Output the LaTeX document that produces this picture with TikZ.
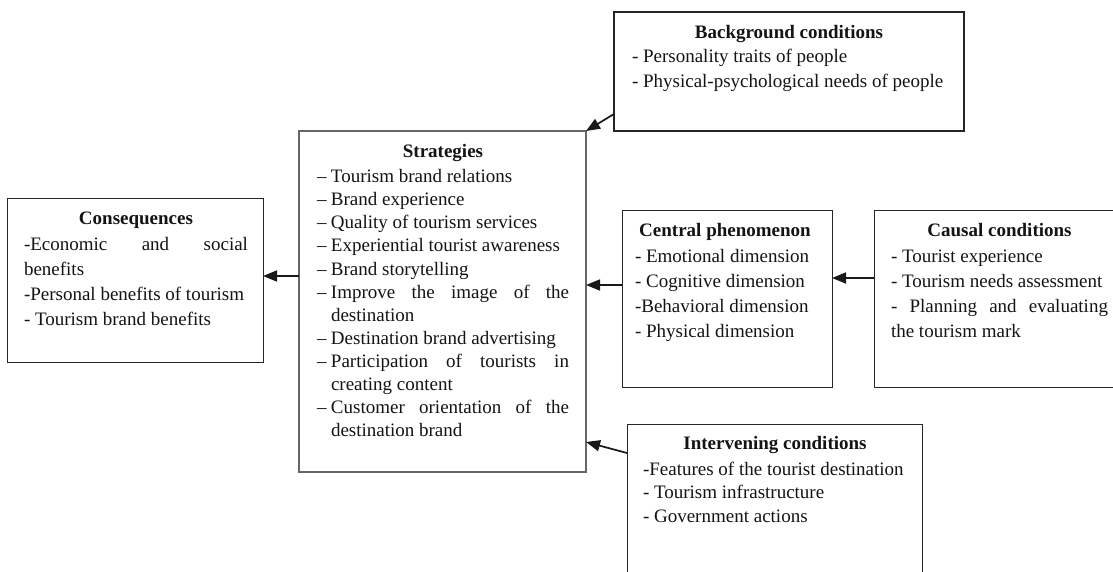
\documentclass[tikz,border=0pt]{standalone}
\usepackage{fontspec}
\setmainfont{Liberation Serif}
\usetikzlibrary{arrows.meta,calc}
\newcommand\dashitem{\makebox[14pt][l]{–}}
\begin{document}
\begin{tikzpicture}[x=1pt,y=-1pt,
  box/.style={draw=black!85, line width=1pt, inner sep=0pt, outer sep=0pt, anchor=north west},
  txt/.style={inner sep=0pt, outer sep=0pt, anchor=base west, text=black!92},
  arr/.style={draw=black!90, line width=1.7pt, -{Triangle[length=14pt,width=11pt]}}]
\useasboundingbox (0,0) rectangle (1113,571);
\fill[white] (0,0) rectangle (1113,571);
\clip (0,0) rectangle (1113,571);

% boxes
\node[box, minimum width=350, minimum height=119, line width=1.8pt] (bg) at (614,12) {};
\node[box, minimum width=256, minimum height=164] (cons) at (7,198) {};
\node[box, minimum width=287, minimum height=341, draw=black!60, line width=1.3pt] (st) at (299,131) {};
\node[box, minimum width=210, minimum height=177] (cen) at (622,210) {};
\node[box, minimum width=260, minimum height=177] (cau) at (874,210) {};
\node[box, minimum width=295, minimum height=170] (int) at (627,424) {};

% texts
\node[txt, font=\fontsize{19}{24.5}\selectfont] (bgt) at (632,38) {\begin{tabular}[t]{@{}l@{}}\makebox[314pt]{\bfseries Background conditions}\\
- Personality traits of people\\
- Physical-psychological needs of people\end{tabular}};

\node[txt, font=\fontsize{19}{25}\selectfont] (const) at (24,224) {\begin{tabular}[t]{@{}l@{}}\makebox[224pt]{\bfseries Consequences}\\[1pt]
\makebox[224pt][s]{-Economic and social}\\
benefits\\
-Personal benefits of tourism\\
- Tourism brand benefits\end{tabular}};

\node[txt, font=\fontsize{19}{23.1}\selectfont] (stt) at (317,157) {\begin{tabular}[t]{@{}l@{}}\makebox[252pt]{\bfseries Strategies}\\[2.5pt]
\dashitem Tourism brand relations\\
\dashitem Brand experience\\
\dashitem Quality of tourism services\\
\dashitem Experiential tourist awareness\\
\dashitem Brand storytelling\\
\dashitem\makebox[238pt][s]{Improve the image of the}\\
\hspace*{14pt}destination\\
\dashitem Destination brand advertising\\
\dashitem\makebox[238pt][s]{Participation of tourists in}\\
\hspace*{14pt}creating content\\
\dashitem\makebox[238pt][s]{Customer orientation of the}\\
\hspace*{14pt}destination brand\end{tabular}};

\node[txt, font=\fontsize{19}{25}\selectfont] (cent) at (635,236) {\begin{tabular}[t]{@{}l@{}}\makebox[180pt]{\bfseries Central phenomenon}\\[1.5pt]
- Emotional dimension\\
- Cognitive dimension\\
-Behavioral dimension\\
- Physical dimension\end{tabular}};

\node[txt, font=\fontsize{19}{25}\selectfont] (caut) at (891,236) {\begin{tabular}[t]{@{}l@{}}\makebox[217pt]{\bfseries Causal conditions}\\[1.5pt]
- Tourist experience\\
- Tourism needs assessment\\
\makebox[217pt][s]{- Planning and evaluating}\\
the tourism mark\end{tabular}};

\node[txt, font=\fontsize{19}{23.4}\selectfont] (intt) at (643,449) {\begin{tabular}[t]{@{}l@{}}\makebox[264pt]{\bfseries Intervening conditions}\\[3pt]
-Features of the tourist destination\\
- Tourism infrastructure\\
- Government actions\end{tabular}};

% connector heights
\coordinate (h1) at (0,276);
\coordinate (h2) at (0,285);
\coordinate (h3) at (0,278);
\coordinate (h4) at (0,453);
\coordinate (h5) at (0,442);

% connectors
\draw[arr] ($(bg.south west)+(0,-17)$) -- (st.north east);
\draw[arr] (st.west |- h1) -- (cons.east |- h1);
\draw[arr] (cen.west |- h2) -- (st.east |- h2);
\draw[arr] (cau.west |- h3) -- (cen.east |- h3);
\draw[arr] (int.west |- h4) -- (st.east |- h5);
\end{tikzpicture}
\end{document}
